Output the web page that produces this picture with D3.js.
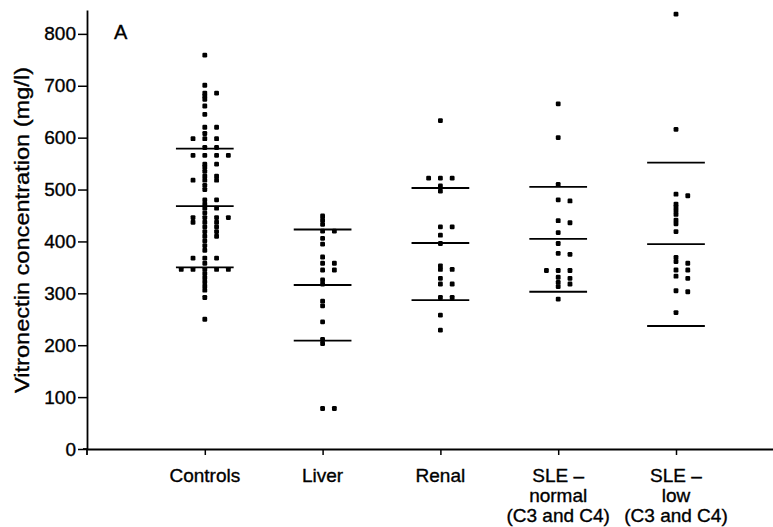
<!DOCTYPE html>
<html>
<head>
<meta charset="utf-8">
<script src="https://cdn.jsdelivr.net/npm/d3@7"></script>
<style>
  html, body { margin: 0; padding: 0; background: #fff; }
  svg { display: block; font-family: "Liberation Sans", Arial, sans-serif; }
  text { stroke: #000; stroke-width: 0.35px; }
</style>
</head>
<body>
<svg id="chart" width="773" height="527"></svg>
<script>
// Vitronectin dot plot, panel A

const categories = ["Controls", "Liver", "Renal", "SLE – normal (C3 and C4)", "SLE – low (C3 and C4)"];
const categoryLines = [["Controls"], ["Liver"], ["Renal"], ["SLE –", "normal", "(C3 and C4)"], ["SLE –", "low", "(C3 and C4)"]];

// individual values (mg/l)
const controls = [759, 701, 686, 686, 680, 674, 661, 645, 620, 620, 608, 598, 598, 598, 581, 581,
  566, 566, 566, 566, 549, 549, 543, 535, 526, 526, 518, 518, 518, 508, 500, 480, 480, 472,
  464, 464, 455, 446, 446, 446, 446, 437, 437, 437, 428, 428, 419, 419, 410, 410, 401, 392, 383,
  368, 368, 368, 358, 346, 346, 346, 346, 346, 338, 330, 322, 314, 306, 292, 250];
const liver = [449, 441, 433, 420, 420, 406, 395, 370, 358, 358, 345, 345, 326, 318, 285, 276,
  245, 211, 203, 78, 78];
const renal = [633, 522, 522, 522, 507, 497, 428, 428, 412, 396, 353, 346, 346, 329, 318, 318,
  292, 292, 258, 229];
const sleNormal = [665, 600, 510, 480, 478, 440, 436, 417, 396, 377, 375, 344, 344, 344, 331, 329,
  321, 318, 313, 289];
const sleLow = [838, 616, 491, 488, 472, 466, 459, 452, 441, 434, 419, 369, 361, 358, 345, 345,
  333, 329, 305, 303, 263];
const series = [controls, liver, renal, sleNormal, sleLow];

// horizontal bars: mean and mean +/- SD
const upperSD = [579, 423, 503, 505, 552];
const means = [468, 316, 397, 405, 395];
const lowerSD = [350, 209, 287, 303, 237];

const yTicks = [0, 100, 200, 300, 400, 500, 600, 700, 800];

const svg = d3.select("#chart");

const x = d3.scaleLinear().domain([0, 6]).range([87, 793.8]);
const y = d3.scaleLinear().domain([0, 846]).range([449, 10]);

const DOT = 4.8;
const MIN_GAP = 3;       // px, closer dots in the same column get pushed aside
const SLOT_W = 0.1;      // column spacing in x units
const slotOrder = [0, 1, -1, 2, -2, 3, -3];

// place dots: each one takes the first column without a neighbour too close
function layoutDots(values) {
  const placed = [];
  values.slice().sort((a, b) => b - a).forEach(v => {
    const py = y(v);
    const slot = slotOrder.find(s =>
      !placed.some(p => p.slot === s && Math.abs(p.py - py) < MIN_GAP));
    placed.push({ v, py, slot });
  });
  return placed;
}

// y axis
const yAxis = svg.append("g")
  .attr("transform", `translate(${x(0)},0)`)
  .call(d3.axisLeft(y).tickValues(yTicks).tickSize(9).tickPadding(2).tickSizeOuter(0));
yAxis.select(".domain").attr("stroke", "#000").attr("stroke-width", 1.8);
yAxis.selectAll(".tick line").attr("stroke", "#000").attr("stroke-width", 1.5);
yAxis.selectAll(".tick text").attr("font-size", 19).attr("fill", "#000")
  .attr("font-family", "Liberation Sans, Arial, sans-serif");

// y axis runs a little below the origin
svg.append("line")
  .attr("x1", x(0)).attr("x2", x(0))
  .attr("y1", y(0)).attr("y2", y(0) + 6)
  .attr("stroke", "#000").attr("stroke-width", 1.8);

// x axis
const xAxis = svg.append("g")
  .attr("transform", `translate(0,${y(0)})`)
  .call(d3.axisBottom(x).tickValues([1, 2, 3, 4, 5]).tickSize(6).tickSizeOuter(0).tickFormat(""));
xAxis.select(".domain").attr("stroke", "#000").attr("stroke-width", 1.8);
xAxis.selectAll(".tick line").attr("stroke", "#000").attr("stroke-width", 1.5);

svg.append("line")
  .attr("x1", x(0) - 4).attr("x2", x(0))
  .attr("y1", y(0)).attr("y2", y(0))
  .attr("stroke", "#000").attr("stroke-width", 1.8);

// category labels, several lines each
categoryLines.forEach((lines, i) => {
  const t = svg.append("text")
    .attr("x", x(i + 1))
    .attr("y", y(0) + 33)
    .attr("text-anchor", "middle")
    .attr("font-size", 19)
    .attr("fill", "#000");
  lines.forEach((line, j) => {
    t.append("tspan")
      .attr("x", x(i + 1))
      .attr("dy", j === 0 ? 0 : 20)
      .text(line);
  });
});

// y axis title
svg.append("text")
  .attr("transform", `translate(29,${(67 + 393) / 2}) rotate(-90)`)
  .attr("text-anchor", "middle")
  .attr("font-size", 20)
  .attr("textLength", 326)
  .attr("lengthAdjust", "spacingAndGlyphs")
  .attr("fill", "#000")
  .text("Vitronectin concentration (mg/l)");

// panel letter
svg.append("text")
  .attr("x", 114)
  .attr("y", 39)
  .attr("font-size", 20)
  .attr("fill", "#000")
  .text("A");

// mean and SD bars
const barData = [];
categories.forEach((c, i) => {
  [upperSD[i], means[i], lowerSD[i]].forEach(v => barData.push({ i, v }));
});
svg.append("g").selectAll("line")
  .data(barData)
  .join("line")
  .attr("x1", d => x(d.i + 1 - 0.245))
  .attr("x2", d => x(d.i + 1 + 0.245))
  .attr("y1", d => y(d.v))
  .attr("y2", d => y(d.v))
  .attr("stroke", "#000")
  .attr("stroke-width", 1.8);

// dots
series.forEach((vals, i) => {
  const dots = layoutDots(vals);
  svg.append("g").selectAll("rect")
    .data(dots)
    .join("rect")
    .attr("x", d => x(i + 1 + d.slot * SLOT_W) - DOT / 2)
    .attr("y", d => d.py - DOT / 2)
    .attr("width", DOT)
    .attr("height", DOT)
    .attr("rx", 1.2)
    .attr("fill", "#000");
});
</script>
</body>
</html>
